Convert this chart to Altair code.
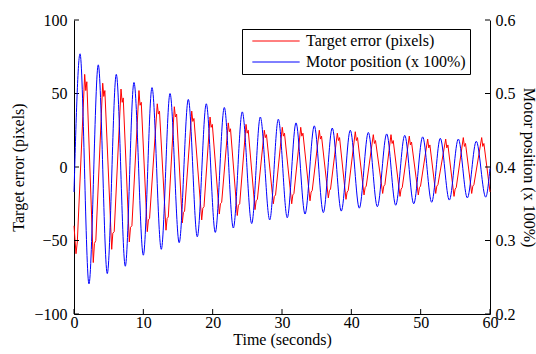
import altair as alt
import pandas as pd

# ---- data ----
red_t = [0.00, 0.29, 0.48,
         1.54, 1.70, 1.85, 2.78, 2.95, 3.15,
         4.14, 4.30, 4.45, 5.44, 5.60, 5.80,
         6.78, 6.95, 7.10, 7.98, 8.15, 8.35,
         9.37, 9.53, 9.70, 10.57, 10.73, 10.90,
         12.01, 12.17, 12.33, 13.27, 13.43, 13.60,
         14.47, 14.63, 14.80, 15.62, 15.78, 15.95,
         16.98, 17.14, 17.30, 18.42, 18.58, 18.75,
         19.62, 19.78, 19.95, 20.96, 21.12, 21.30,
         22.25, 22.41, 22.57, 23.55, 23.71, 23.90,
         24.81, 24.97, 25.13, 26.11, 26.27, 26.45,
         27.45, 27.60, 27.76, 28.75, 28.90, 29.07,
         30.04, 30.20, 30.36, 31.40, 31.56, 31.72,
         32.70, 32.86, 33.02, 34.04, 34.20, 34.36,
         35.38, 35.54, 35.70, 36.68, 36.84, 37.00,
         37.98, 38.14, 38.30, 39.23, 39.39, 39.55,
         40.57, 40.73, 40.89, 41.83, 41.99, 42.15,
         43.17, 43.33, 43.49, 44.52, 44.68, 44.84,
         45.72, 45.88, 46.04, 47.02, 47.18, 47.34,
         48.36, 48.52, 48.68, 49.66, 49.82, 49.98,
         51.01, 51.17, 51.33, 52.17, 52.33, 52.49,
         53.61, 53.77, 53.93, 54.81, 54.97, 55.13,
         56.15, 56.31, 56.47, 57.36, 57.52, 57.68,
         58.80, 58.96, 59.12,
         60.00]
red_v = [-40, -59, -51,
         63, 52, 58, -65, -52, -50,
         57, 48, 52, -56, -45, -44,
         53, 44, 47, -51, -41, -40,
         52, 42, 44, -44, -36, -35,
         43, 36, 38, -43, -35, -34,
         41, 34, 36, -38, -31, -30,
         38, 31, 33, -36, -28, -27,
         34, 27, 29, -32, -25, -24,
         30, 24, 26, -33, -26, -25,
         29, 23, 25, -29, -23, -22,
         25, 20, 22, -25, -20, -19,
         27, 21, 23, -25, -19, -18,
         27, 21, 23, -23, -17, -16,
         25, 19, 21, -21, -16, -15,
         23, 18, 20, -22, -17, -16,
         24, 18, 20, -19, -14, -13,
         22, 16, 18, -18, -13, -12,
         22, 16, 18, -20, -15, -14,
         21, 15, 17, -19, -14, -13,
         19, 13, 15, -18, -13, -12,
         19, 13, 15, -20, -15, -14,
         20, 14, 16, -18, -13, -12,
         20, 14, 16,
         -17]

blue_t = [0.00, 0.87, 2.16, 3.50, 4.80, 6.10, 7.40, 8.65, 10.00, 11.25, 12.59,
          13.85, 15.17, 16.49, 17.78, 19.08, 20.38, 21.68, 22.98, 24.27, 25.63,
          26.87, 28.23, 29.47, 30.76, 32.02, 33.32, 34.66, 35.96, 37.25, 38.55,
          39.85, 41.15, 42.45, 43.75, 45.10, 46.40, 47.70, 49.00, 50.29, 51.59,
          52.83, 54.13, 55.43, 56.73, 58.02, 59.38, 60.00]
blue_v = [0.366, 0.554, 0.241, 0.539, 0.255, 0.526, 0.265, 0.515, 0.280, 0.508, 0.288,
          0.500, 0.297, 0.492, 0.305, 0.486, 0.311, 0.481, 0.317, 0.475, 0.323,
          0.468, 0.328, 0.465, 0.331, 0.460, 0.336, 0.456, 0.338, 0.453, 0.340,
          0.450, 0.344, 0.447, 0.346, 0.445, 0.348, 0.443, 0.350, 0.441, 0.352,
          0.439, 0.355, 0.438, 0.358, 0.435, 0.359, 0.398]

x_ticks = [0, 10, 20, 30, 40, 50, 60]
left_ticks = [-100, -50, 0, 50, 100]
right_ticks = [0.2, 0.3, 0.4, 0.5, 0.6]
series = ["Target error (pixels)", "Motor position (x 100%)"]
colors = ["#ff0000", "#0000ff"]

# ---- layout / style ----
W, H = 416, 294
FONT = "Liberation Serif"
FS = 16
TL = 5  # inward tick length

red_df = pd.DataFrame({"t": red_t, "v": red_v, "s": series[0]})
blue_df = pd.DataFrame({"t": blue_t, "v": blue_v, "s": series[1]})

x_scale = alt.Scale(domain=[0, 60], nice=False, zero=False)
yl_scale = alt.Scale(domain=[-100, 100], nice=False, zero=False)
yr_scale = alt.Scale(domain=[0.2, 0.6], nice=False, zero=False)

x_axis = alt.Axis(values=x_ticks, title="Time (seconds)", labelPadding=0, titlePadding=1)
yl_axis = alt.Axis(orient="left", values=left_ticks, format="d",
                   title="Target error (pixels)", labelPadding=7, titlePadding=7)
yr_axis = alt.Axis(orient="right", values=right_ticks, format=".1f",
                   title="Motor position (x 100%)", labelPadding=5, titlePadding=5)

color = alt.Color(
    "s:N",
    scale=alt.Scale(domain=series, range=colors),
    legend=alt.Legend(
        title=None, orient="none", legendX=168, legendY=9, direction="vertical",
        symbolType="M-8,0H8", symbolSize=35, symbolStrokeWidth=1,
        symbolOffset=22, labelOffset=22,
        labelFont=FONT, labelFontSize=FS, labelColor="black", labelLimit=400,
        strokeColor="black", fillColor="white", padding=4, rowPadding=5,
        cornerRadius=0,
    ),
)

red_line = alt.Chart(red_df).mark_line(strokeWidth=1).encode(
    x=alt.X("t:Q", scale=x_scale, axis=x_axis),
    y=alt.Y("v:Q", scale=yl_scale, axis=yl_axis),
    color=color,
)

xt_rule = alt.Chart(pd.DataFrame({"t": x_ticks})).mark_rule(color="black", strokeWidth=1).encode(
    x=alt.X("t:Q", scale=x_scale, axis=x_axis),
    y=alt.value(H), y2=alt.value(H - TL),
)
lt_rule = alt.Chart(pd.DataFrame({"v": left_ticks})).mark_rule(color="black", strokeWidth=1).encode(
    y=alt.Y("v:Q", scale=yl_scale, axis=yl_axis),
    x=alt.value(0), x2=alt.value(TL),
)

blue_line = alt.Chart(blue_df).mark_line(strokeWidth=1, interpolate="monotone").encode(
    x=alt.X("t:Q", scale=x_scale, axis=x_axis),
    y=alt.Y("v:Q", scale=yr_scale, axis=yr_axis),
    color=color,
)
rt_rule = alt.Chart(pd.DataFrame({"v": right_ticks})).mark_rule(color="black", strokeWidth=1).encode(
    y=alt.Y("v:Q", scale=yr_scale, axis=yr_axis),
    x=alt.value(W), x2=alt.value(W - TL),
)

red_group = alt.layer(red_line, xt_rule, lt_rule)
blue_group = alt.layer(blue_line, rt_rule)

chart = (
    alt.layer(red_group, blue_group)
    .resolve_scale(y="independent")
    .properties(
        width=W, height=H,
        autosize=alt.AutoSizeParams(type="none"),
        padding={"left": 74, "top": 20, "right": 46, "bottom": 40},
        background="white",
    )
    .configure_view(stroke=None)
    .configure_axis(
        labelFont=FONT, titleFont=FONT, labelFontSize=FS, titleFontSize=FS,
        labelColor="black", titleColor="black", titleFontWeight="normal",
        domainColor="black", domainWidth=1, ticks=False, tickSize=0,
        grid=False, labelFlush=False, labelOverlap=False,
    )
)

chart.save("out.html", embed_options={"renderer": "svg", "actions": False})
